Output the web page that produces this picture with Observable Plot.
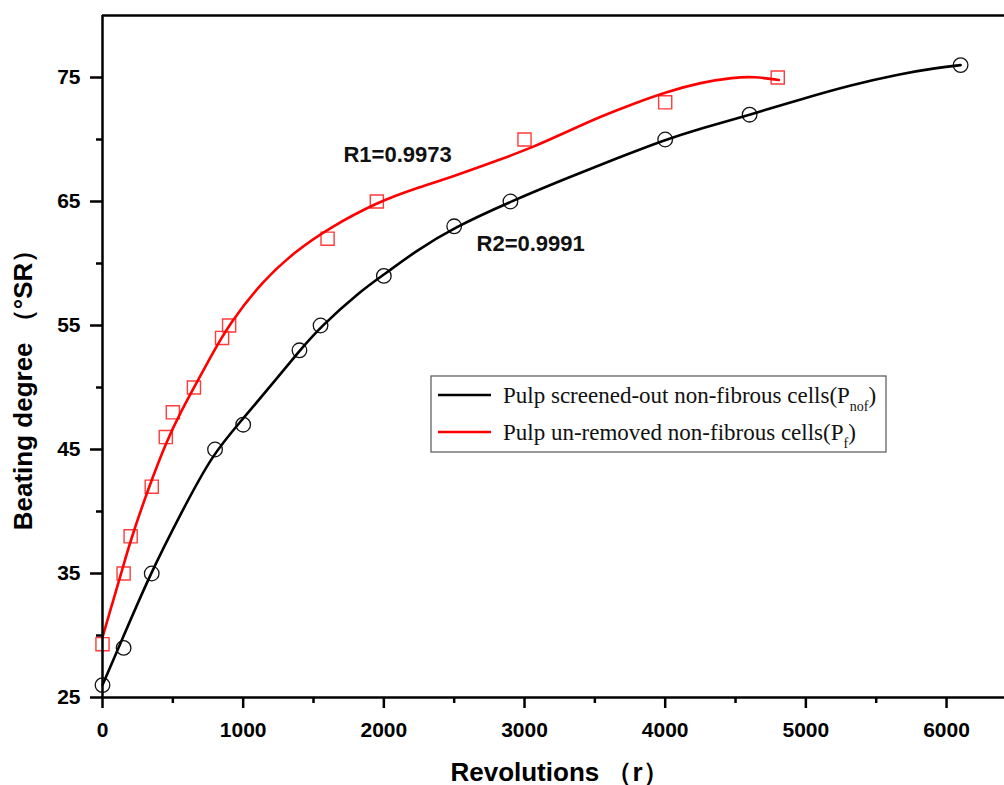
<!DOCTYPE html>
<html>
<head>
<meta charset="utf-8">
<script src="https://cdn.jsdelivr.net/npm/d3@7"></script>
<script src="https://cdn.jsdelivr.net/npm/@observablehq/plot@0.6"></script>
<style>
  html, body { margin: 0; padding: 0; background: #fff; }
  #chart { width: 1004px; height: 785px; }
</style>
</head>
<body>
<div id="chart"></div>
<script>
// ---- data ----
const revNof = [0, 150, 350, 800, 1000, 1400, 1550, 2000, 2500, 2900, 4000, 4600, 6100];
const degNof = [26, 29, 35, 45, 47, 53, 55, 59, 63, 65, 70, 72, 76];

const revPf = [0, 150, 200, 350, 450, 500, 650, 850, 900, 1600, 1950, 3000, 4000, 4800];
const degPf = [29.3, 35, 38, 42, 46, 48, 50, 54, 55, 62, 65, 70, 73, 75];

// fitted curves
const fitNofX = [0, 116, 340, 560, 780, 993, 1230, 1396, 1550, 1847, 2001, 2226, 2498, 2902, 3305, 3660, 4004, 4253, 4604, 4964, 5320, 5676, 5913, 6100];
const fitNofY = [26.0, 29.05, 35.0, 39.9, 44.6, 47.4, 50.6, 52.9, 54.9, 57.9, 59.1, 61.0, 62.9, 65.0, 66.9, 68.5, 70.0, 70.9, 72.0, 73.25, 74.4, 75.3, 75.75, 76.0];

const fitPfX = [0, 70, 135, 200, 330, 460, 560, 650, 780, 900, 1138, 1373, 1608, 1963, 2226, 2475, 2831, 3065, 3307, 3542, 3777, 4018, 4253, 4488, 4630, 4808];
const fitPfY = [29.85, 32.6, 35.1, 37.7, 42.0, 45.8, 48.1, 50.0, 52.7, 55.1, 58.6, 61.0, 62.85, 65.0, 66.06, 66.95, 68.4, 69.4, 70.65, 71.86, 72.9, 73.87, 74.6, 75.0, 75.08, 74.8];

const xTicks = [0, 1000, 2000, 3000, 4000, 5000, 6000];
const xMinor = [500, 1500, 2500, 3500, 4500, 5500];
const yTicks = [25, 35, 45, 55, 65, 75];
const yMinor = [30, 40, 50, 60, 70];

const annotations = [
  {x: 1713, y: 68.2, text: "R1=0.9973"},
  {x: 2659, y: 61.0, text: "R2=0.9991"}
];

const xTitle = "Revolutions （r）";
const yTitle = "Beating degree （°SR）";
const legendItems = [
  {label: "Pulp screened-out non-fibrous cells(P", sub: "nof", tail: ")", color: "#000000"},
  {label: "Pulp un-removed non-fibrous cells(P", sub: "f", tail: ")", color: "#ff0000"}
];

// ---- build tables ----
const nof = revNof.map((r, i) => ({r, d: degNof[i]}));
const pf = revPf.map((r, i) => ({r, d: degPf[i]}));
const fitNof = fitNofX.map((r, i) => ({r, d: fitNofY[i]}));
const fitPf = fitPfX.map((r, i) => ({r, d: fitPfY[i]}));

const W = 1004, H = 785;
const mL = 102, mT = 15, mB = 88, mR = 0;

const chart = Plot.plot({
  width: W,
  height: H,
  marginLeft: mL,
  marginTop: mT,
  marginBottom: mB,
  marginRight: mR,
  style: {fontFamily: "'Liberation Sans', Arial, sans-serif", background: "white", color: "black"},
  x: {domain: [0, 6412]},
  y: {domain: [25, 80]},
  marks: [
    Plot.axisX({ticks: xTicks, tickSize: 11, tickPadding: 14, fontSize: 21, fontWeight: "bold", strokeWidth: 2.5, label: null, tickFormat: d => String(d)}),
    Plot.axisX({ticks: xMinor, tickSize: 6, strokeWidth: 2.5, label: null, tickFormat: () => ""}),
    Plot.axisY({ticks: yTicks, tickSize: 12, tickPadding: 10, fontSize: 21, fontWeight: "bold", strokeWidth: 2.5, label: null, tickFormat: d => String(d)}),
    Plot.axisY({ticks: yMinor, tickSize: 6, strokeWidth: 2.5, label: null, tickFormat: () => ""}),
    Plot.dot(nof, {x: "r", y: "d", r: 7.3, stroke: "#111", strokeWidth: 1.3, fill: "none"}),
    Plot.dot(pf, {x: "r", y: "d", symbol: "square", r: 7.4, stroke: "#ff3b3b", strokeWidth: 1.4, fill: "none"}),
    Plot.line(fitNof, {x: "r", y: "d", stroke: "#000", strokeWidth: 2.6, curve: "basis"}),
    Plot.line(fitPf, {x: "r", y: "d", stroke: "#ff0000", strokeWidth: 2.6, curve: "basis"}),
    Plot.ruleY([80], {strokeWidth: 2.5}),
    Plot.ruleY([25], {strokeWidth: 2.5}),
    Plot.ruleX([0], {strokeWidth: 2.5}),
    Plot.text(annotations, {x: "x", y: "y", text: "text", textAnchor: "start", lineAnchor: "bottom", fontSize: 22, fontWeight: "bold", fill: "#111"}),
    Plot.text([xTitle], {text: d => d, frameAnchor: "bottom", textAnchor: "middle", lineAnchor: "bottom", dx: 6, dy: 83, fontSize: 26, fontWeight: "bold"}),
    Plot.text([yTitle], {text: d => d, frameAnchor: "left", textAnchor: "middle", lineAnchor: "middle", rotate: -90, dx: -79, dy: 27, fontSize: 26, fontWeight: "bold"})
  ]
});

document.getElementById("chart").appendChild(chart);

// ---- legend (box inside plot area) ----
const svg = d3.select(chart);
const lg = svg.append("g")
  .attr("font-family", "'Liberation Serif', 'Times New Roman', serif")
  .attr("text-anchor", "start");
lg.append("rect")
  .attr("x", 431).attr("y", 376).attr("width", 455).attr("height", 76)
  .attr("fill", "white").attr("stroke", "#555").attr("stroke-width", 1.2);
legendItems.forEach((it, i) => {
  const yy = 395 + i * 37;
  lg.append("line").attr("x1", 438).attr("x2", 491).attr("y1", yy).attr("y2", yy)
    .attr("stroke", it.color).attr("stroke-width", 2.6);
  const t = lg.append("text").attr("x", 503).attr("y", yy + 8).attr("font-size", 23)
    .attr("text-anchor", "start").attr("fill", "#111");
  t.append("tspan").text(it.label);
  t.append("tspan").attr("font-size", 14).attr("dy", 8).text(it.sub);
  t.append("tspan").attr("dy", -8).text(it.tail);
});
</script>
</body>
</html>
